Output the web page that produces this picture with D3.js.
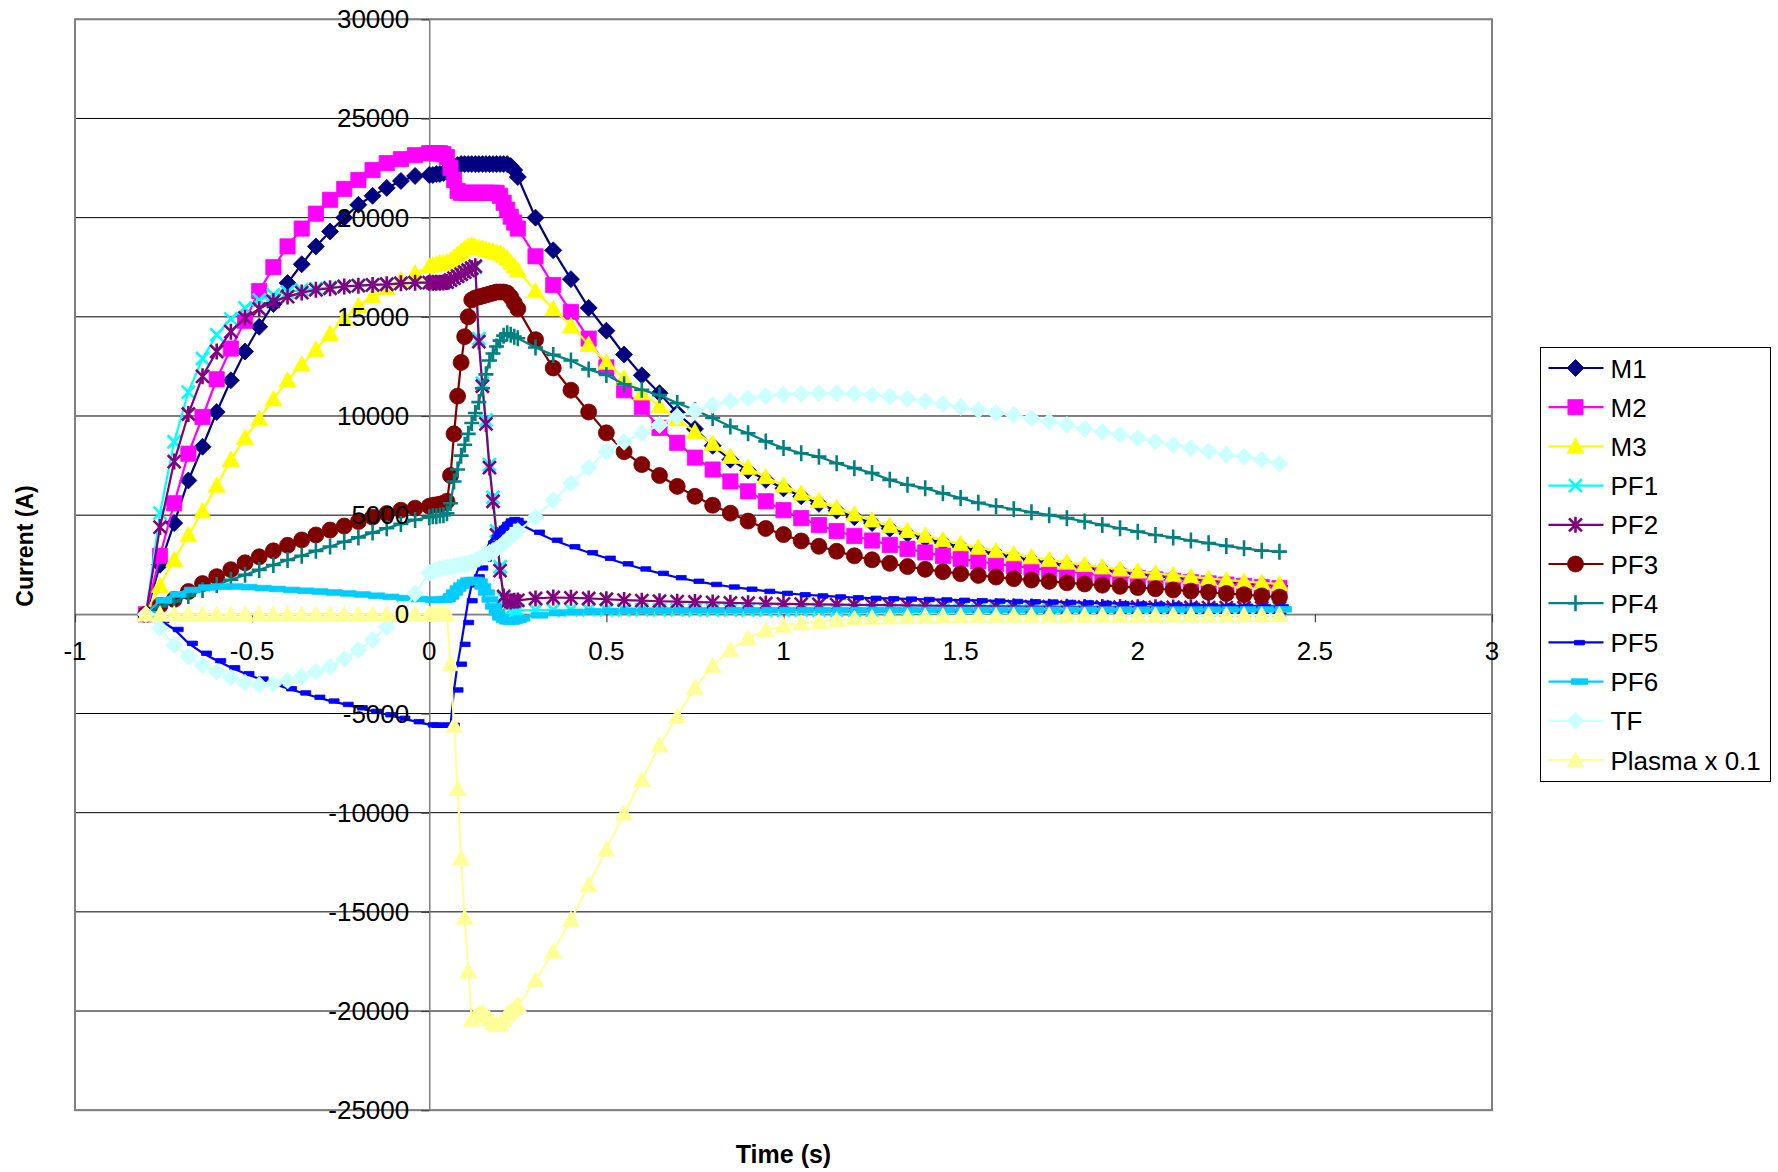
<!DOCTYPE html>
<html>
<head>
<meta charset="utf-8">
<script src="https://cdn.jsdelivr.net/npm/d3@7"></script>
<style>
  body { margin: 0; background: #fff; }
  svg { display: block; font-family: "Liberation Sans", Arial, sans-serif; }
</style>
</head>
<body>
<svg id="chart" width="1778" height="1172"></svg>
<script>
// time points (s): coarse before 0, dense 0..0.25, coarse after
var time = [-0.80,-0.76,-0.72,-0.68,-0.64,-0.60,-0.56,-0.52,-0.48,-0.44,-0.40,-0.36,-0.32,-0.28,-0.24,-0.20,-0.16,-0.12,-0.08,-0.04,
  0.00,0.01,0.02,0.03,0.04,0.05,0.06,0.07,0.08,0.09,0.10,0.11,0.12,0.13,0.14,0.15,0.16,0.17,0.18,0.19,0.20,0.21,0.22,0.23,0.24,0.25,
  0.30,0.35,0.40,0.45,0.50,0.55,0.60,0.65,0.70,0.75,0.80,0.85,0.90,0.95,1.00,1.05,1.10,1.15,1.20,1.25,1.30,1.35,1.40,1.45,1.50,
  1.55,1.60,1.65,1.70,1.75,1.80,1.85,1.90,1.95,2.00,2.05,2.10,2.15,2.20,2.25,2.30,2.35,2.40];

var m1 = [0,2500,4600,6750,8450,10200,11800,13250,14500,15650,16700,17650,18550,19300,20000,20650,21100,21500,21850,22100,
  22150,22150,22200,22200,22250,22300,22400,22550,22650,22700,22700,22700,22700,22700,22700,22700,22700,22700,22700,22700,22700,22700,22700,22600,22400,22050,
  20000,18350,16900,15450,14300,13100,12050,11150,10150,9350,8500,7800,7250,6780,6350,5950,5570,5230,4900,4600,4320,4060,3820,3600,3400,
  3220,3050,2890,2740,2600,2470,2350,2240,2130,2030,1940,1850,1770,1690,1620,1550,1490,1430];

var m2 = [0,2950,5600,8100,9950,11850,13400,14800,16300,17500,18550,19450,20200,20900,21450,21900,22400,22750,22950,23150,
  23250,23250,23250,23250,23200,23050,22500,21900,21350,21250,21250,21250,21250,21250,21250,21250,21250,21250,21250,21250,21100,20750,20400,20050,19750,19450,
  18050,16600,15250,13900,12450,11300,10450,9400,8650,7900,7300,6700,6200,5700,5250,4850,4500,4200,3950,3720,3500,3300,3120,2950,2800,
  2670,2550,2440,2340,2240,2150,2060,1980,1900,1830,1760,1690,1620,1560,1500,1440,1380,1320];

var m3 = [0,1450,2750,4000,5200,6500,7800,8900,9850,10850,11800,12600,13350,14150,14900,15550,16050,16450,16850,17200,
  17550,17600,17650,17700,17700,17750,17850,18000,18150,18300,18450,18550,18600,18550,18500,18450,18400,18350,18300,18250,18200,18100,17950,17750,17550,17350,
  16300,15400,14550,13600,12700,11900,11150,10500,9850,9200,8600,7950,7400,6930,6500,6100,5720,5380,5050,4750,4470,4210,3970,3750,3550,
  3370,3200,3040,2890,2750,2620,2500,2380,2270,2170,2070,1980,1890,1810,1730,1660,1590,1530];

var pf1 = [0,5100,8700,11200,12900,14100,14900,15450,15850,16100,16250,16350,16420,16480,16530,16570,16610,16640,16680,16710,
  16720,16720,16720,16720,16730,16750,16850,16950,17050,17150,17250,17350,17450,17500,13900,11650,9800,7550,5900,4200,2400,800,400,250,200,200,
  210,220,230,230,230,230,230,225,225,220,220,220,215,215,215,210,210,210,210,205,205,205,205,200,200,
  200,200,200,195,195,195,195,195,190,190,190,190,190,190,185,185,185,185];

var pf2 = [0,4400,7700,10100,12000,13250,14250,14950,15400,15780,16020,16220,16360,16440,16530,16570,16610,16640,16690,16720,
  16720,16720,16720,16720,16730,16750,16850,16950,17050,17150,17250,17350,17450,17550,13750,11500,9600,7400,5700,4000,2200,900,650,650,680,700,
  800,850,830,800,760,720,690,660,640,620,600,580,560,545,530,515,500,490,480,470,460,450,440,430,420,
  412,405,398,392,386,380,375,370,365,360,355,350,346,342,338,334,330,326];

var pf3 = [0,450,750,1150,1550,1900,2250,2600,2900,3200,3480,3750,4000,4250,4450,4680,4900,5080,5250,5350,
  5450,5500,5520,5550,5600,5700,7000,9100,11000,12700,14000,15000,15850,15950,16000,16050,16100,16150,16200,16250,16250,16250,16200,16000,15700,15400,
  13850,12420,11300,10200,9150,8200,7550,7000,6450,5950,5500,5100,4700,4330,4020,3700,3430,3180,2950,2750,2570,2410,2270,2150,2050,
  1960,1880,1800,1730,1660,1590,1530,1470,1410,1350,1290,1230,1170,1110,1050,990,930,870];

var pf4 = [0,400,650,930,1230,1480,1740,1990,2240,2490,2740,2950,3200,3420,3660,3880,4120,4340,4560,4760,
  4900,4950,4950,4980,5000,5100,5600,6700,7300,8000,8550,9100,9650,10150,10700,11400,12100,12800,13150,13500,13800,14050,14170,14100,14000,13920,
  13450,13080,12800,12350,12070,11600,11320,11050,10650,10300,9900,9470,9130,8720,8380,8120,7950,7620,7370,7120,6780,6530,6360,6100,5860,
  5620,5450,5300,5150,5000,4850,4680,4510,4340,4170,4000,3880,3720,3590,3450,3330,3210,3160];

var pf5 = [0,-300,-750,-1450,-1950,-2330,-2680,-2980,-3250,-3500,-3740,-3950,-4170,-4360,-4530,-4700,-4880,-5050,-5230,-5400,
  -5560,-5580,-5580,-5580,-5580,-5580,-5580,-3800,-2500,-1500,-400,700,1500,1900,2350,2800,3250,3600,3900,4150,4350,4550,4720,4790,4750,4600,
  4150,3750,3420,3120,2840,2560,2300,2080,1860,1680,1520,1390,1280,1170,1070,1000,940,890,850,820,800,780,760,740,720,
  700,680,660,645,630,610,590,570,550,530,510,490,470,450,435,420,405,390];

var pf6 = [0,700,1000,1230,1350,1400,1400,1370,1320,1280,1230,1190,1150,1100,1050,1000,940,880,820,770,
  740,730,730,730,760,900,1100,1300,1450,1600,1700,1730,1730,1650,1400,1100,750,400,100,-150,-280,-350,-370,-330,-270,-200,
  -50,60,120,150,170,180,185,190,195,200,200,205,205,210,210,210,215,215,215,220,220,220,220,225,225,
  225,225,230,230,230,230,235,235,235,235,240,240,240,240,245,245,245,250];

var tf = [0,-700,-1550,-2130,-2570,-2900,-3200,-3450,-3560,-3500,-3330,-3150,-2900,-2650,-2250,-1800,-1300,-650,0,1050,
  2100,2150,2250,2300,2330,2360,2400,2430,2470,2500,2540,2580,2630,2700,2800,2900,3000,3100,3200,3300,3420,3580,3750,3900,4050,4200,
  4900,5750,6600,7400,8200,8700,9130,9550,9970,10250,10550,10750,10900,11000,11080,11120,11150,11150,11120,11060,10980,10870,10750,10600,10450,
  10300,10150,10050,9880,9720,9550,9350,9200,9050,8880,8710,8540,8380,8210,8040,7950,7790,7600];

var plasma = [0,0,0,0,0,0,0,0,0,0,0,0,0,0,0,0,0,0,0,0,
  0,0,0,0,0,0,-2500,-5600,-8800,-12300,-15300,-18000,-20450,-20250,-20150,-20100,-20200,-20400,-20600,-20700,-20650,-20450,-20150,-20000,-19850,-19700,
  -18450,-17000,-15400,-13650,-11850,-10030,-8350,-6600,-5150,-3700,-2600,-1800,-1200,-800,-580,-450,-370,-290,-220,-180,-150,-130,-110,-100,-90,
  -85,-80,-75,-70,-68,-65,-62,-60,-58,-55,-52,-50,-48,-46,-44,-42,-40,-38];

var xTicks = [-1, -0.5, 0, 0.5, 1, 1.5, 2, 2.5, 3];
var yTicks = [-25000, -20000, -15000, -10000, -5000, 0, 5000, 10000, 15000, 20000, 25000, 30000];

var series = [
  { name: "M1", values: m1, color: "#000080", marker: "diamond" },
  { name: "M2", values: m2, color: "#FF00FF", marker: "square" },
  { name: "M3", values: m3, color: "#FFFF00", marker: "triangle" },
  { name: "PF1", values: pf1, color: "#00FFFF", marker: "cross" },
  { name: "PF2", values: pf2, color: "#800080", marker: "star" },
  { name: "PF3", values: pf3, color: "#800000", marker: "circle" },
  { name: "PF4", values: pf4, color: "#008080", marker: "plus" },
  { name: "PF5", values: pf5, color: "#0000FF", marker: "dash" },
  { name: "PF6", values: pf6, color: "#00CCFF", marker: "longdash" },
  { name: "TF", values: tf, color: "#CCFFFF", marker: "diamond" },
  { name: "Plasma x 0.1", values: plasma, color: "#FFFF99", marker: "triangle" }
];

var svg = d3.select("#chart");
svg.append("rect").attr("width", 1778).attr("height", 1172).attr("fill", "#fff");

var plot = { left: 75, top: 19.3, right: 1492, bottom: 1110.2 };
var width = plot.right - plot.left,
  height = plot.bottom - plot.top;

var x = d3.scaleLinear().domain([-1, 3]).range([0, width]);
var y = d3.scaleLinear().domain([-25000, 30000]).range([height, 0]);

var g = svg.append("g")
  .attr("transform", "translate(" + plot.left + "," + plot.top + ")");

// horizontal gridlines
g.append("g").selectAll("line")
  .data(yTicks)
  .enter().append("line")
  .attr("x1", 0).attr("x2", width)
  .attr("y1", function (d) { return y(d); })
  .attr("y2", function (d) { return y(d); })
  .attr("stroke", "#000")
  .attr("stroke-width", 1);

g.append("rect")
  .attr("width", width).attr("height", height)
  .attr("fill", "none")
  .attr("stroke", "#808080")
  .attr("stroke-width", 2);

var fmt = function (d) { return String(d); };

var yAxis = g.append("g")
  .attr("class", "axis axis--y")
  .attr("transform", "translate(" + x(0) + ",0)")
  .call(d3.axisLeft(y).tickValues(yTicks).tickFormat(fmt).tickSize(8).tickSizeOuter(0).tickPadding(12));

var xAxis = g.append("g")
  .attr("class", "axis axis--x")
  .attr("transform", "translate(0," + y(0) + ")")
  .call(d3.axisBottom(x).tickValues(xTicks).tickFormat(fmt).tickSize(8).tickSizeOuter(0).tickPadding(20));

[yAxis, xAxis].forEach(function (a) {
  a.select(".domain").attr("stroke", "#808080").attr("stroke-width", 1.5);
  a.selectAll(".tick line").attr("stroke", "#404040").attr("stroke-width", 1.2);
  a.selectAll("text").remove();
});

var markerPaths = {
  diamond: "M0,-8.5L8.5,0L0,8.5L-8.5,0Z",
  square: "M-7.6,-7.6H7.6V7.6H-7.6Z",
  triangle: "M0,-8.5L8.5,6.8H-8.5Z",
  cross: "M-6.5,-6.5L6.5,6.5M-6.5,6.5L6.5,-6.5",
  star: "M-6.5,-6.5L6.5,6.5M-6.5,6.5L6.5,-6.5M0,-8V8",
  plus: "M-7.5,0H7.5M0,-8V8",
  circle: "M8,0A8,8 0 1,1 -8,0A8,8 0 1,1 8,0Z",
  dash: "M-1,-2H9V2.5H-1Z",
  longdash: "M-4,-2.8H12V2.8H-4Z"
};
var stroked = { cross: true, star: true, plus: true };

function addMarker(sel, s) {
  sel.append("path")
    .attr("d", markerPaths[s.marker])
    .attr("fill", stroked[s.marker] ? "none" : s.color)
    .attr("stroke", s.color)
    .attr("stroke-width", stroked[s.marker] ? 2.6 : 0.8);
}

var line = d3.line()
  .x(function (d) { return x(d[0]); })
  .y(function (d) { return y(d[1]); });

series.forEach(function (s) {
  var pts = time.map(function (t, i) { return [t, s.values[i]]; });
  var sg = g.append("g").attr("class", "series");
  sg.append("path")
    .datum(pts)
    .attr("fill", "none")
    .attr("stroke", s.color)
    .attr("stroke-width", 2.2)
    .attr("d", line);
  sg.selectAll(".mk")
    .data(pts)
    .enter().append("g")
    .attr("class", "mk")
    .attr("transform", function (d) { return "translate(" + x(d[0]) + "," + y(d[1]) + ")"; })
    .each(function () { addMarker(d3.select(this), s); });
});

// tick labels above the data, as in the original
var labelSize = 26;
g.append("g").selectAll("text")
  .data(yTicks)
  .enter().append("text")
  .attr("x", x(0) - 20)
  .attr("y", function (d) { return y(d) + 9; })
  .attr("text-anchor", "end")
  .attr("font-size", labelSize)
  .attr("fill", "#000")
  .text(fmt);

g.append("g").selectAll("text")
  .data(xTicks)
  .enter().append("text")
  .attr("x", function (d) { return x(d); })
  .attr("y", y(0) + 46)
  .attr("text-anchor", "middle")
  .attr("font-size", labelSize)
  .attr("fill", "#000")
  .text(fmt);

svg.append("text")
  .attr("x", (plot.left + plot.right) / 2)
  .attr("y", 1163)
  .attr("text-anchor", "middle")
  .attr("font-size", 25)
  .attr("font-weight", "bold")
  .text("Time (s)");

svg.append("text")
  .attr("transform", "translate(33,546) rotate(-90)")
  .attr("text-anchor", "middle")
  .attr("font-size", 23)
  .attr("font-weight", "bold")
  .text("Current (A)");

// legend
var legend = svg.append("g").attr("transform", "translate(1540.5,347.5)");
legend.append("rect")
  .attr("width", 230).attr("height", 434)
  .attr("fill", "#fff")
  .attr("stroke", "#000")
  .attr("stroke-width", 1);

var item = legend.selectAll(".item")
  .data(series)
  .enter().append("g")
  .attr("class", "item")
  .attr("transform", function (d, i) { return "translate(0," + (20.5 + i * 39.2) + ")"; });

item.append("line")
  .attr("x1", 8).attr("x2", 63)
  .attr("stroke", function (d) { return d.color; })
  .attr("stroke-width", 2.2);

item.append("g")
  .attr("transform", "translate(35,0)")
  .each(function (d) { addMarker(d3.select(this), d); });

item.append("text")
  .attr("x", 70)
  .attr("y", 9.5)
  .attr("font-size", labelSize)
  .attr("fill", "#000")
  .text(function (d) { return d.name; });
</script>
</body>
</html>
